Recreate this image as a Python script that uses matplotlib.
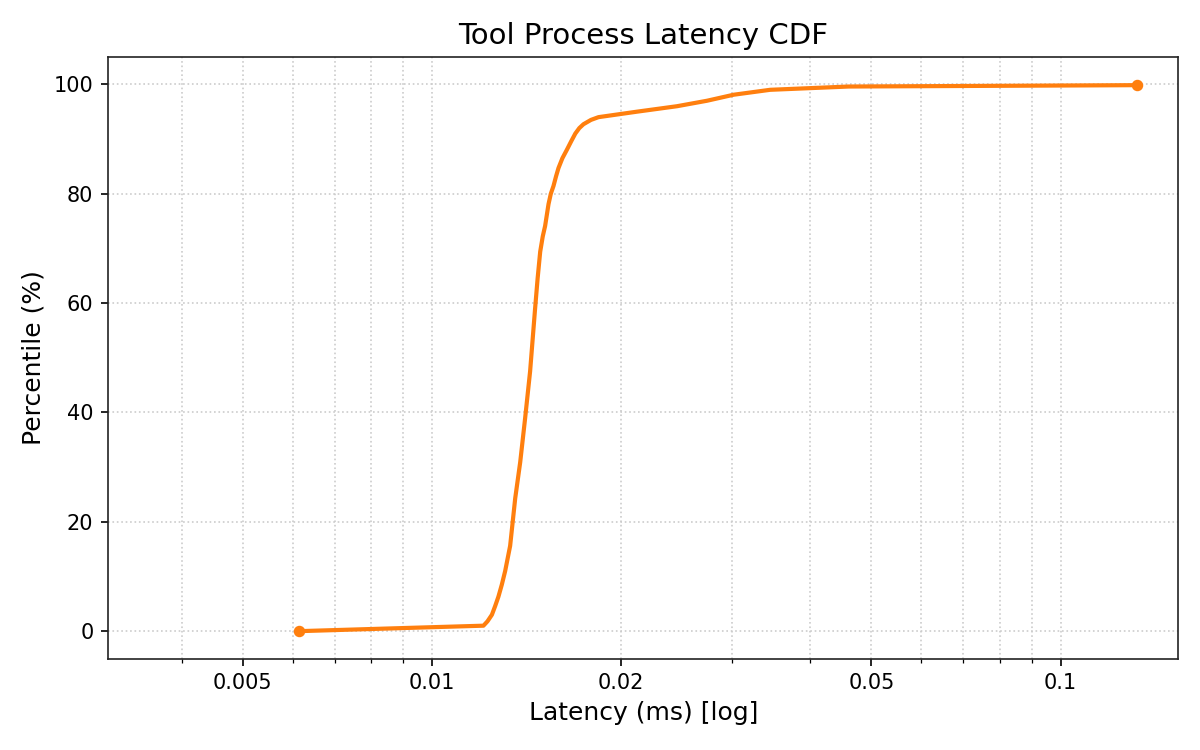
import matplotlib
matplotlib.use("Agg")
import matplotlib.pyplot as plt
from matplotlib.ticker import FixedLocator, FixedFormatter, NullFormatter, LogLocator

latency_ms = [0.00614, 0.00957, 0.01207, 0.01225, 0.01245, 0.01260, 0.01275, 0.01291,
              0.01307, 0.01331, 0.01356, 0.01381, 0.01406, 0.01432, 0.01458, 0.01472,
              0.01486, 0.01500, 0.01513, 0.01532, 0.01545, 0.01560, 0.01575, 0.01589,
              0.01612, 0.01638, 0.01665, 0.01690, 0.01715, 0.01741, 0.01790, 0.01840,
              0.02118, 0.02453, 0.02738, 0.03019, 0.03450, 0.04600, 0.13210]
percentile = [0.0, 0.66, 1.0, 1.8, 3.0, 4.6, 6.3, 8.5,
              11.0, 15.6, 24.3, 30.9, 38.9, 47.5, 58.8, 64.5,
              69.4, 72.2, 74.1, 78.1, 80.0, 81.4, 83.2, 84.7,
              86.5, 88.0, 89.6, 91.0, 92.0, 92.7, 93.5, 94.0,
              95.0, 96.0, 97.0, 98.1, 99.0, 99.6, 99.85]
xtick_values = [0.005, 0.01, 0.02, 0.05, 0.1]
xtick_labels = ["0.005", "0.01", "0.02", "0.05", "0.1"]

color = "#ff7f0e"
fig, ax = plt.subplots(figsize=(8, 5), dpi=150)
ax.plot(latency_ms, percentile, color=color, lw=2)
ax.plot([latency_ms[0], latency_ms[-1]], [percentile[0], percentile[-1]],
        "o", color=color, ms=4.5, ls="none")
ax.set_xscale("log")
ax.set_xlim(0.00305, 0.154)
ax.set_ylim(-5, 105)
ax.xaxis.set_major_locator(FixedLocator(xtick_values))
ax.xaxis.set_major_formatter(FixedFormatter(xtick_labels))
ax.xaxis.set_minor_locator(LogLocator(base=10, subs=range(1, 10)))
ax.xaxis.set_minor_formatter(NullFormatter())
ax.grid(True, which="both", axis="x", ls=":", color="#cccccc", lw=0.8)
ax.grid(True, which="major", axis="y", ls=":", color="#cccccc", lw=0.8)
for s in ax.spines.values():
    s.set_color("#222222")
ax.tick_params(labelsize=10)
ax.set_title("Tool Process Latency CDF", fontsize=14)
ax.set_xlabel("Latency (ms) [log]", fontsize=12)
ax.set_ylabel("Percentile (%)", fontsize=12)
fig.subplots_adjust(left=0.09, right=0.982, top=0.924, bottom=0.122)
fig.savefig("out.png")
